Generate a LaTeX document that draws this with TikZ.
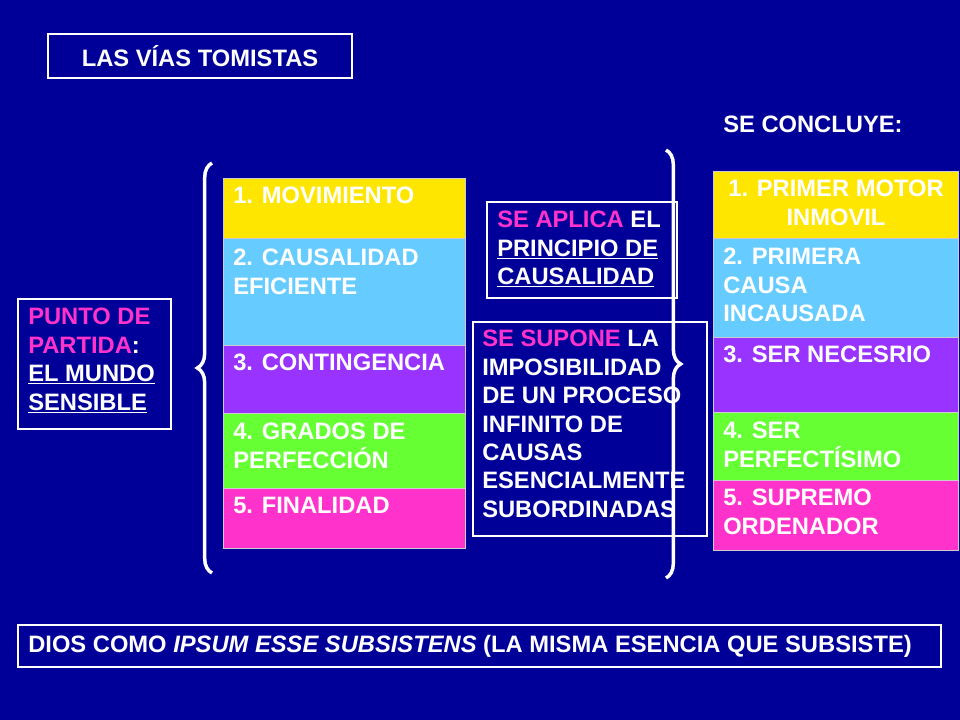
\documentclass[tikz,border=0pt]{standalone}
\usepackage{fontspec}
\setmainfont{Liberation Sans}
\usetikzlibrary{positioning, decorations.pathreplacing}
\definecolor{navy}{HTML}{000099}
\definecolor{vyellow}{HTML}{FFE600}
\definecolor{vblue}{HTML}{66CCFF}
\definecolor{vpurple}{HTML}{9933FF}
\definecolor{vgreen}{HTML}{66FF33}
\definecolor{vpink}{HTML}{FF33CC}
\tikzset{
  txt/.style={text=white, font=\bfseries\fontsize{17.8}{21.3}\selectfont, align=left},
  frame/.style={draw=white, line width=1.5pt},
  via/.style={draw=gray!40, thin},
  brace/.style={white, line width=2.6pt, decorate, decoration={brace, amplitude=11pt}}
}
\begin{document}
\begin{tikzpicture}[x=0.75pt, y=-0.75pt]
\fill[navy] (0,0) rectangle (960,720);

% titulo
\draw[frame] (48,34) rectangle (352,78);
\node[txt] (titulo) at (200,56) {LAS VÍAS TOMISTAS};
\node[txt, anchor=west, inner sep=0pt] (concluye) at (723,124) {SE CONCLUYE:};

% punto de partida
\draw[frame] (18,299) rectangle (171,429);
\node[txt, anchor=north west, inner sep=0pt] (partida) at (28,308)
  {\textcolor{vpink}{PUNTO DE}\\\textcolor{vpink}{PARTIDA}:\\\underline{EL MUNDO}\\\underline{SENSIBLE}};

% vias
\foreach \ya/\yb/\c in {178/238/vyellow, 238/345/vblue, 345/413/vpurple, 413/488/vgreen, 488/548/vpink}
  \draw[via, fill=\c] (223,\ya) rectangle (465,\yb);
\node[txt, anchor=north west, inner sep=0pt] (v1) at (233,187) {1. MOVIMIENTO};
\node[txt, anchor=north west, inner sep=0pt] (v2) at (233,249) {2. CAUSALIDAD\\EFICIENTE};
\node[txt, anchor=north west, inner sep=0pt] (v3) at (233,354) {3. CONTINGENCIA};
\node[txt, anchor=north west, inner sep=0pt] (v4) at (233,423) {4. GRADOS DE\\PERFECCIÓN};
\node[txt, anchor=north west, inner sep=0pt] (v5) at (233,497) {5. FINALIDAD};

% conclusiones
\foreach \ya/\yb/\c in {171/238/vyellow, 238/337/vblue, 337/412/vpurple, 412/480/vgreen, 480/550/vpink}
  \draw[via, fill=\c] (713,\ya) rectangle (958,\yb);
\node[txt, align=center, anchor=north, inner sep=0pt] (c1) at (836,180) {1. PRIMER MOTOR\\INMOVIL};
\node[txt, anchor=north west, inner sep=0pt] (c2) at (723,248) {2. PRIMERA\\CAUSA\\INCAUSADA};
\node[txt, anchor=north west, inner sep=0pt] (c3) at (723,346) {3. SER NECESRIO};
\node[txt, anchor=north west, inner sep=0pt] (c4) at (723,422) {4. SER\\PERFECTÍSIMO};
\node[txt, anchor=north west, inner sep=0pt] (c5) at (723,489) {5. SUPREMO\\ORDENADOR};

% principios
\draw[frame] (487,202) rectangle (677,298);
\node[txt, anchor=north west, inner sep=0pt] (aplica) at (497,211)
  {\textcolor{vpink}{SE APLICA} EL\\\underline{PRINCIPIO DE}\\\underline{CAUSALIDAD}};
\draw[frame] (473,322) rectangle (707,536);
\node[txt, anchor=north west, inner sep=0pt] (supone) at (482,330)
  {\textcolor{vpink}{SE SUPONE} LA\\IMPOSIBILIDAD\\DE UN PROCESO\\INFINITO DE\\CAUSAS\\ESENCIALMENTE\\SUBORDINADAS};

% llaves
\coordinate (la) at (212,573);
\coordinate (lb) at (212,163);
\coordinate (ra) at (666,150);
\coordinate (rb) at (666,578);
\draw[brace] (la) -- (lb);
\draw[brace] (ra) -- (rb);

% conclusion final
\draw[frame] (18,625) rectangle (941,667);
\node[txt, anchor=west, inner sep=0pt] (dios) at (28,646) {DIOS COMO \textit{IPSUM ESSE SUBSISTENS} (LA MISMA ESENCIA QUE SUBSISTE)};
\end{tikzpicture}
\end{document}
